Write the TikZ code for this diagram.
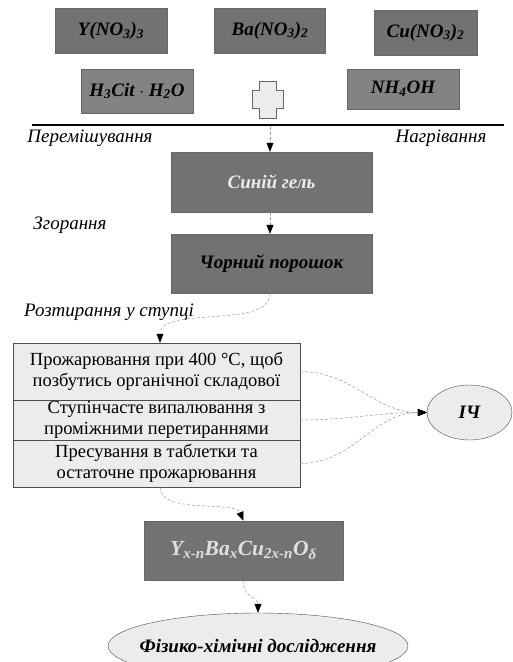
\documentclass[tikz,border=0pt]{standalone}
\usepackage{fontspec}
\setmainfont{Liberation Serif}
\usetikzlibrary{arrows.meta,shapes.geometric}

\definecolor{boxdark}{HTML}{727272}
\definecolor{boxmid}{HTML}{838383}
\definecolor{boxlight}{HTML}{ECECEC}
\definecolor{linegray}{HTML}{9A9A9A}

\tikzset{
	reagent/.style={draw=black!60, fill=boxdark, minimum width=112pt, minimum height=45pt,
		font=\fontsize{19}{21}\selectfont\bfseries\itshape, inner sep=0pt},
	solvent/.style={reagent, fill=boxmid, minimum height=44pt},
	stage/.style={draw=black!60, fill=boxdark, minimum width=201pt, minimum height=60pt,
		font=\fontsize{19}{21}\selectfont\bfseries\itshape, inner sep=0pt},
	step box/.style={draw=black!70, fill=boxlight, minimum width=287pt, inner sep=0pt,
		align=center, font=\fontsize{18.5}{20.5}\selectfont},
	oval/.style={ellipse, draw=black!70, fill=boxlight, inner sep=0pt,
		font=\fontsize{19}{21}\selectfont\bfseries\itshape},
	note/.style={font=\fontsize{19}{21}\selectfont\itshape},
	flow/.style={draw=linegray, densely dashed, line width=0.5pt,
		-{Triangle[length=9pt,width=7pt,black]}}
}

\begin{document}
\begin{tikzpicture}[x=1pt,y=-1pt]
	\useasboundingbox (0,0) rectangle (512,662);
	% starting materials
	\node[reagent] (yno) at (111,31) {Y(NO\textsubscript{3})\textsubscript{3}};
	\node[reagent, minimum width=111pt] (bano) at (270,30.5) {Ba(NO\textsubscript{3})\textsubscript{2}};
	\node[reagent, minimum width=103pt] (cuno) at (425.5,32.5) {Cu(NO\textsubscript{3})\textsubscript{2}};
	\node[solvent] (hcit) at (137,91) {H\textsubscript{3}Cit $\cdot$ H\textsubscript{2}O};
	\node[solvent, minimum height=40pt] (nhoh) at (403,89) {NH\textsubscript{4}OH};
	% plus sign
	\filldraw[draw=black!60, fill=boxlight, line width=0.6pt]
		(259,81) -- (276,81) -- (276,90) -- (283,90) -- (283,108) -- (276,108)
		-- (276,118) -- (259,118) -- (259,108) -- (252,108) -- (252,90) -- (259,90) -- cycle;
	\draw[line width=2.6pt] (32,125) -- (504,125);
	\coordinate (mix) at (270,127);

	\node[note] (permix) at (90,138) {Перемішування};
	\node[note] (heat) at (441,138) {Нагрівання};

	% gel and powder
	\node[stage, text=white!92!black] (gel) at (271.5,182) {Синій гель};
	\node[note] (burn) at (70,225) {Згорання};
	\node[stage, minimum height=59pt] (powder) at (271.5,263.5) {Чорний порошок};
	\node[note] (grind) at (109,312) {Розтирання у ступці};

	% thermal steps
	\node[step box, minimum height=57pt] (anneal) at (156.5,371.5)
		{Прожарювання при 400 °C, щоб\\позбутись органічної складової};
	\node[step box, minimum height=40pt] (fire) at (156.5,420)
		{Ступінчасте випалювання з\\проміжними перетираннями};
	\node[step box, minimum height=47pt] (press) at (156.5,463.5)
		{Пресування в таблетки та\\остаточне прожарювання};

	\node[oval, minimum width=85pt, minimum height=55pt] (ir) at (469.5,412.5) {ІЧ};

	\node[stage, minimum width=199pt, minimum height=59pt, text=white!88!black,
		font=\fontsize{21.5}{23}\selectfont\bfseries\itshape] (ybco) at (243.5,550.5)
		{Y\textsubscript{x-n}Ba\textsubscript{x}Cu\textsubscript{2x-n}O\textsubscript{δ}};
	\node[oval, inner xsep=-15pt, minimum width=300pt, minimum height=66pt] (study) at (258,646)
		{Фізико-хімічні дослідження};

	% connectors
	\draw[flow] (mix) -- (gel.north -| mix);
	\draw[flow] (gel.south -| mix) -- (powder.north -| mix);
	\draw[flow] (powder.south -| mix) .. controls (270,330) and (160,305) .. (anneal.north -| 160,0);
	\draw[flow] (anneal.east) to[out=0,in=180] (ir.west);
	\draw[flow] (fire.east) to[out=0,in=180] (ir.west);
	\draw[flow] (press.east) to[out=0,in=180] (ir.west);
	\draw[flow] (press.south -| 160,0) .. controls (160,515) and (235,500) .. (ybco.north);
	\draw[flow] (ybco.south) .. controls (243,600) and (258,595) .. (study.north);
\end{tikzpicture}
\end{document}
